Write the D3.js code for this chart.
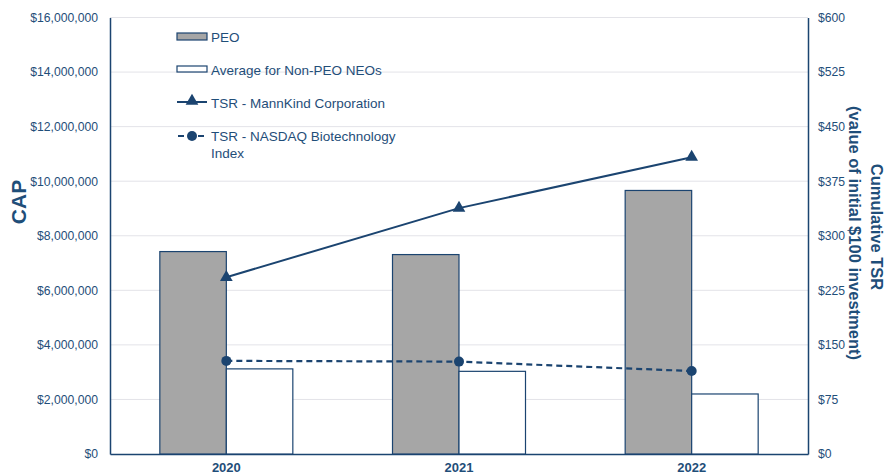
<!DOCTYPE html>
<html><head><meta charset="utf-8">
<script src="https://cdn.jsdelivr.net/npm/d3@7"></script>
<style>body{margin:0;background:#fff}svg{display:block}text{font-family:"Liberation Sans",Arial,sans-serif}</style>
</head><body><svg id="c" width="888" height="476"></svg>
<script>
const years = ["2020","2021","2022"];
const peo = [7420000, 7310000, 9660000];
const nonPeo = [3120000, 3030000, 2200000];
const tsrMannKind = [243, 338, 408];
const tsrNasdaq = [128, 127, 114];
const leftTicks = [0,2e6,4e6,6e6,8e6,10e6,12e6,14e6,16e6];
const rightTicks = [0,75,150,225,300,375,450,525,600];
const legendLabels = ["PEO","Average for Non-PEO NEOs","TSR - MannKind Corporation","TSR - NASDAQ Biotechnology","Index"];

const navy = "#1b4470", txt = "#1f4e79", gray = "#a6a6a6", grid = "#e3e3e8";
const svg = d3.select("#c");
const L = 110, R = 808, T = 17.5, B = 454;
const x = d3.scaleBand().domain(years).range([L, R]).paddingInner(0).paddingOuter(0);
const yL = d3.scaleLinear().domain([0, 16e6]).range([B, T]);
const yR = d3.scaleLinear().domain([0, 600]).range([B, T]);
const barW = 66.5;

// gridlines
svg.append("g").selectAll("line").data(leftTicks.slice(1)).join("line")
  .attr("x1", L).attr("x2", R).attr("y1", d => yL(d)).attr("y2", d => yL(d))
  .attr("stroke", grid).attr("stroke-width", 1);

// axes
const fmtL = d => "$" + d3.format(",")(d);
const ga = svg.append("g").attr("transform", `translate(${L},0)`)
  .call(d3.axisLeft(yL).tickValues(leftTicks).tickFormat(fmtL).tickSize(0).tickPadding(12));
const gr = svg.append("g").attr("transform", `translate(${R},0)`)
  .call(d3.axisRight(yR).tickValues(rightTicks).tickFormat(d => "$" + d).tickSize(0).tickPadding(10));
[ga, gr].forEach(g => {
  g.select(".domain").attr("stroke", navy).attr("stroke-width", 1.5);
  g.selectAll("text").attr("fill", txt).attr("font-size", 12.2);
});
const gb = svg.append("g").attr("transform", `translate(0,${B})`)
  .call(d3.axisBottom(x).tickSize(0).tickPadding(9));
gb.select(".domain").attr("stroke", navy).attr("stroke-width", 1.5);
gb.selectAll("text").attr("fill", txt).attr("font-size", 13).attr("font-weight", "bold");

// bars
const cx = d => x(d) + x.bandwidth() / 2;
svg.append("g").selectAll("rect").data(years).join("rect")
  .attr("x", (d) => cx(d) - barW).attr("width", barW)
  .attr("y", (d, i) => yL(peo[i])).attr("height", (d, i) => B - yL(peo[i]))
  .attr("fill", gray).attr("stroke", navy).attr("stroke-width", 1.2);
svg.append("g").selectAll("rect").data(years).join("rect")
  .attr("x", (d) => cx(d)).attr("width", barW)
  .attr("y", (d, i) => yL(nonPeo[i])).attr("height", (d, i) => B - yL(nonPeo[i]))
  .attr("fill", "#fff").attr("stroke", navy).attr("stroke-width", 1.2);

// lines
const line = d3.line().x((d, i) => cx(years[i])).y(d => yR(d));
svg.append("path").attr("d", line(tsrMannKind)).attr("fill", "none").attr("stroke", navy).attr("stroke-width", 2);
svg.append("path").attr("d", line(tsrNasdaq)).attr("fill", "none").attr("stroke", navy).attr("stroke-width", 2.2).attr("stroke-dasharray", "6,4");
const tri = d3.symbol().type(d3.symbolTriangle).size(70);
svg.append("g").selectAll("path").data(tsrMannKind).join("path")
  .attr("d", tri).attr("transform", (d, i) => `translate(${cx(years[i])},${yR(d)})`).attr("fill", navy);
svg.append("g").selectAll("circle").data(tsrNasdaq).join("circle")
  .attr("cx", (d, i) => cx(years[i])).attr("cy", d => yR(d)).attr("r", 5).attr("fill", navy);

// axis titles
svg.append("text").attr("transform", "translate(25.5,202) rotate(-90)").attr("text-anchor", "middle")
  .attr("font-size", 21).attr("font-weight", "bold").attr("fill", txt).text("CAP");
svg.append("text").attr("transform", "translate(871,227) rotate(90)").attr("text-anchor", "middle")
  .attr("font-size", 16.5).attr("font-weight", "bold").attr("fill", txt).text("Cumulative TSR");
svg.append("text").attr("transform", "translate(849,233) rotate(90)").attr("text-anchor", "middle")
  .attr("font-size", 16.5).attr("font-weight", "bold").attr("fill", txt).text("(value of initial $100 investment)");

// legend
const lg = svg.append("g");
const lx = 177, ltx = 211;
lg.append("rect").attr("x", lx).attr("y", 33).attr("width", 30).attr("height", 7).attr("fill", gray).attr("stroke", navy).attr("stroke-width", 1.2);
lg.append("rect").attr("x", lx).attr("y", 66).attr("width", 30).attr("height", 6).attr("fill", "#fff").attr("stroke", navy).attr("stroke-width", 1.2);
lg.append("line").attr("x1", lx).attr("x2", lx + 30).attr("y1", 102).attr("y2", 102).attr("stroke", navy).attr("stroke-width", 2);
lg.append("path").attr("d", tri).attr("transform", `translate(${lx + 15},101)`).attr("fill", navy);
lg.append("line").attr("x1", lx).attr("x2", lx + 30).attr("y1", 136).attr("y2", 136).attr("stroke", navy).attr("stroke-width", 2.2).attr("stroke-dasharray", "6,4").attr("stroke-dashoffset", -1);
lg.append("circle").attr("cx", lx + 15).attr("cy", 136).attr("r", 5).attr("fill", navy);
const ly = [41.5, 74.5, 107.5, 140.5, 157.5];
lg.selectAll("text").data(legendLabels).join("text")
  .attr("x", ltx).attr("y", (d, i) => ly[i]).attr("font-size", 13.5).attr("fill", txt).text(d => d);
</script></body></html>
